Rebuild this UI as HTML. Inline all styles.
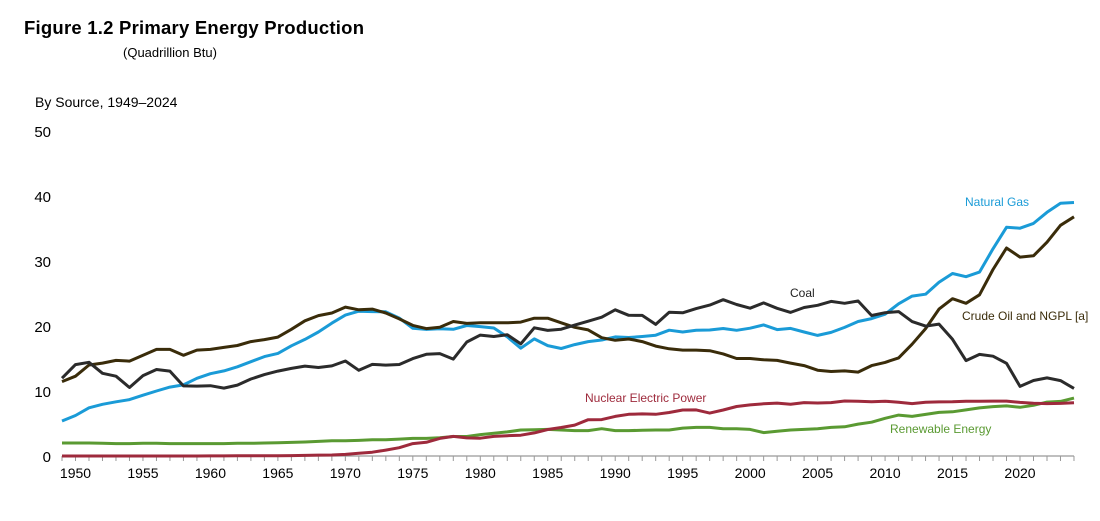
<!DOCTYPE html>
<html><head><meta charset="utf-8"><style>
body{margin:0;background:#fff;width:1100px;height:521px;overflow:hidden;font-family:"Liberation Sans",sans-serif}
svg{position:absolute;left:0;top:0}
</style></head><body>
<svg width="1100" height="521">
<text x="24" y="34" font-size="18.5" font-weight="bold" fill="#000" textLength="340">Figure 1.2  Primary Energy Production</text>
<text x="123" y="57" font-size="13" fill="#000">(Quadrillion Btu)</text>
<text x="35" y="107" font-size="14" fill="#000">By Source, 1949–2024</text>
<g id="yaxis"></g>
<g id="xaxis"></g>
<g id="lines"></g>
<text x="965" y="206" font-size="12" fill="#1a9bd7">Natural Gas</text>
<text x="790" y="297" font-size="12" fill="#222">Coal</text>
<text x="962" y="320" font-size="12" fill="#3a2c0a">Crude Oil and NGPL [a]</text>
<text x="585" y="402" font-size="12" fill="#9e2a3c">Nuclear Electric Power</text>
<text x="890" y="433" font-size="12" fill="#5a9a32">Renewable Energy</text>
</svg>
<script>
const startYear=1949;
const yTicks=[0,10,20,30,40,50];
const xTickLabels=[1950,1955,1960,1965,1970,1975,1980,1985,1990,1995,2000,2005,2010,2015,2020];
const coal=[11.97,14.06,14.41,12.73,12.28,10.54,12.37,13.31,13.06,10.78,10.76,10.82,10.45,10.90,11.85,12.52,13.06,13.47,13.83,13.61,13.86,14.61,13.19,14.09,13.99,14.07,14.99,15.65,15.76,14.91,17.54,18.60,18.38,18.64,17.25,19.72,19.33,19.51,20.14,20.74,21.36,22.49,21.64,21.63,20.25,22.11,22.03,22.68,23.21,24.05,23.30,22.74,23.55,22.73,22.09,22.85,23.19,23.79,23.49,23.85,21.62,22.04,22.22,20.68,19.99,20.29,17.95,14.67,15.63,15.36,14.26,10.70,11.62,12.01,11.6,10.4];
const naturalGas=[5.38,6.23,7.42,7.96,8.34,8.68,9.35,10.0,10.6,10.94,11.95,12.66,13.1,13.72,14.51,15.3,15.78,16.95,17.94,19.07,20.45,21.67,22.28,22.21,22.19,21.21,19.64,19.48,19.57,19.49,20.08,19.91,19.7,18.32,16.59,18.01,16.98,16.54,17.14,17.6,17.85,18.33,18.23,18.38,18.58,19.35,19.08,19.34,19.39,19.61,19.34,19.66,20.17,19.44,19.63,19.07,18.56,19.02,19.79,20.7,21.14,21.81,23.41,24.6,24.89,26.72,28.07,27.58,28.29,31.88,35.19,35.04,35.79,37.5,38.9,39.0];
const crudeOil=[11.45,12.27,14.0,14.3,14.7,14.6,15.5,16.4,16.4,15.5,16.3,16.4,16.7,17.0,17.6,17.9,18.3,19.5,20.8,21.6,22.0,22.9,22.5,22.6,22.0,21.1,20.1,19.6,19.8,20.7,20.4,20.5,20.5,20.5,20.6,21.2,21.2,20.5,19.8,19.4,18.2,17.8,18.0,17.6,16.9,16.5,16.3,16.3,16.2,15.7,15.0,15.0,14.8,14.7,14.3,13.9,13.2,13.0,13.1,12.9,13.9,14.4,15.1,17.2,19.6,22.6,24.2,23.5,24.8,28.7,32.0,30.6,30.8,32.9,35.5,36.8];
const nuclear=[0,0,0,0,0,0,0,0,0,0,0,0.01,0.02,0.03,0.04,0.04,0.04,0.06,0.09,0.14,0.15,0.24,0.41,0.58,0.91,1.27,1.9,2.11,2.7,3.02,2.78,2.74,3.01,3.13,3.2,3.55,4.08,4.38,4.75,5.59,5.6,6.1,6.42,6.48,6.41,6.69,7.08,7.09,6.6,7.07,7.61,7.86,8.03,8.14,7.96,8.22,8.16,8.21,8.46,8.43,8.36,8.43,8.27,8.06,8.27,8.33,8.34,8.43,8.42,8.44,8.45,8.25,8.13,8.06,8.1,8.2];
const renewable=[2.0,2.0,2.0,1.95,1.9,1.9,1.95,1.95,1.9,1.9,1.9,1.9,1.9,1.95,1.95,2.0,2.05,2.1,2.15,2.25,2.35,2.35,2.4,2.5,2.5,2.6,2.7,2.7,2.8,3.0,3.0,3.3,3.5,3.7,4.0,4.05,4.1,4.0,3.9,3.9,4.2,3.9,3.9,3.95,4.0,4.0,4.3,4.4,4.4,4.2,4.2,4.1,3.6,3.8,4.0,4.1,4.2,4.4,4.5,4.9,5.2,5.8,6.3,6.1,6.4,6.7,6.8,7.1,7.4,7.6,7.7,7.5,7.8,8.3,8.4,8.9];
const NS='http://www.w3.org/2000/svg';
const x=yr=>62+(yr-1949)*13.493;
const y=v=>456-v*6.5;
function mk(t,a,p){const e=document.createElementNS(NS,t);for(const k in a)e.setAttribute(k,a[k]);p.appendChild(e);return e;}
const ya=document.getElementById('yaxis');
yTicks.forEach(v=>{const t=mk('text',{x:51,y:y(v)+6,'font-size':15,'text-anchor':'end',fill:'#000'},ya);t.textContent=v;

});
const xa=document.getElementById('xaxis');
const ax=mk('line',{x1:x(1949),x2:x(2024),y1:456,y2:456,stroke:'#999','stroke-width':1.2},xa);


for(let yr=1949;yr<=2024;yr++){const tk=mk('line',{x1:x(yr),x2:x(yr),y1:456,y2:461,stroke:'#999','stroke-width':1},xa);

}
xTickLabels.forEach(yr=>{const t=mk('text',{x:x(yr),y:478,'font-size':14,'text-anchor':'middle',fill:'#000'},xa);t.textContent=yr;

});
const lg=document.getElementById('lines');
function line(d,c,name){const pts=d.map((v,i)=>x(startYear+i).toFixed(1)+','+y(v).toFixed(1)).join(' ');
const p=mk('polyline',{points:pts,fill:'none',stroke:c,'stroke-width':3,'stroke-linejoin':'round'},lg);

}
line(renewable,'#5a9a32','renewable-line');
line(nuclear,'#9e2a3c','nuclear-line');
line(naturalGas,'#1a9bd7','natural-gas-line');
line(crudeOil,'#3a2c0a','crude-oil-line');
line(coal,'#2b2b2b','coal-line');
</script>
</body></html>
